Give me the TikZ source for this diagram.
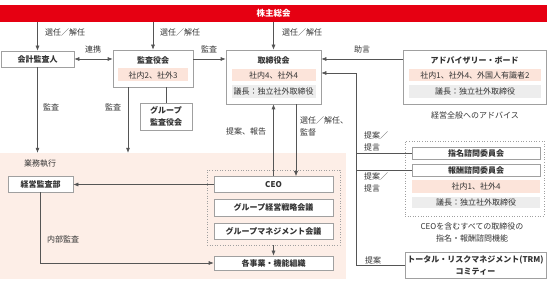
\documentclass[tikz,border=0pt]{standalone}
\usepackage{fontspec}
\setmainfont{Noto Sans CJK JP}
\definecolor{brandred}{HTML}{E60012}
\definecolor{execbg}{HTML}{FDEEE7}
\definecolor{mixbg}{HTML}{FCE4DA}
\definecolor{chairbg}{HTML}{EDEDED}
\definecolor{framegray}{HTML}{A0A0A0}
\definecolor{linegray}{HTML}{555555}
\definecolor{inkgray}{HTML}{333333}
\usetikzlibrary{arrows.meta, positioning, calc}
\tikzset{
  box/.style={
    draw=framegray, fill=white, line width=0.6pt, inner sep=0pt,
    font=\fontsize{8}{12}\selectfont\bfseries, text=inkgray, align=center
  },
  band/.style={
    fill=#1, inner sep=0pt, font=\fontsize{8}{12}\selectfont, text=inkgray
  },
  band/.default=mixbg,
  lbl/.style={font=\fontsize{8}{12}\selectfont, text=inkgray, inner sep=0pt, align=left},
  arr/.style={-{Latex[length=5pt,width=4pt]}, line width=0.6pt, draw=linegray},
  conn/.style={line width=0.6pt, draw=linegray},
  dotbox/.style={draw=framegray, dotted, line width=0.6pt, inner sep=0pt},
}

\begin{document}
\begin{tikzpicture}[x=1pt, y=-1pt]
  \useasboundingbox (0,0) rectangle (547,283);

  % Execution area
  \node[fill=execbg, minimum width=346pt, minimum height=126pt, inner sep=0pt] (exec) at (173,216) {};
  \node[lbl] (execlbl) at (40,164) {業務執行};

  % Shareholders
  \node[fill=brandred, minimum width=547pt, minimum height=17pt, inner sep=0pt,
        text=white, font=\fontsize{8.5}{10}\selectfont\bfseries] (agm) at (273.5,13.5) {株主総会};

  % Top row
  \node[box, minimum width=73pt, minimum height=16pt] (acct) at (37.5,59) {会計監査人};

  \node[box, minimum width=80pt, minimum height=37pt] (audit) at (153,68.5) {};
  \node[box, draw=none, fill=none] (audittitle) at (153,60) {監査役会};
  \node[band, minimum width=70pt, minimum height=13pt] (auditmix) at (153,75) {社内2、社外3};
  \node[box, minimum width=52pt, minimum height=27pt] (group) at (166,116.5) {グループ\\監査役会};

  \node[box, minimum width=95pt, minimum height=54pt] (board) at (273.5,77) {};
  \node[box, draw=none, fill=none] (boardtitle) at (273.5,60) {取締役会};
  \node[band, minimum width=84pt, minimum height=12pt] (boardmix) at (273.5,75) {社内4、社外4};
  \node[band=chairbg, minimum width=84pt, minimum height=13pt] (boardchair) at (273.5,91.5) {議長：独立社外取締役};

  \node[box, minimum width=143pt, minimum height=54pt] (advisory) at (474.5,77) {};
  \node[box, draw=none, fill=none] (advtitle) at (474.5,60) {アドバイザリー・ボード};
  \node[band, minimum width=132pt, minimum height=12pt] (advmix) at (475,75) {社内1、社外4、外国人有識者2};
  \node[band=chairbg, minimum width=132pt, minimum height=13pt] (advchair) at (475,91.5) {議長：独立社外取締役};
  \node[lbl] (advnote) at (475,115) {経営全般へのアドバイス};

  % Execution side
  \node[box, minimum width=65pt, minimum height=16pt] (dept) at (40.5,184) {経営監査部};
  \node[dotbox, minimum width=133pt, minimum height=75pt] (ceogrp) at (273.5,207.5) {};
  \node[box, minimum width=119pt, minimum height=16pt] (ceo) at (273.5,184.5) {CEO};
  \node[box, minimum width=119pt, minimum height=17pt] (strategy) at (273.5,207.5) {グループ経営戦略会議};
  \node[box, minimum width=119pt, minimum height=16pt] (mgmt) at (273.5,231) {グループマネジメント会議};
  \node[box, minimum width=119pt, minimum height=14pt] (units) at (273.5,263) {各事業・機能組織};

  % Committees
  \node[dotbox, minimum width=139pt, minimum height=75pt] (commgrp) at (474.5,178.5) {};
  \node[box, minimum width=128pt, minimum height=12pt] (nom) at (476,153.5) {指名諮問委員会};
  \node[box, minimum width=128pt, minimum height=12pt] (rem) at (476,170) {報酬諮問委員会};
  \node[band, minimum width=128pt, minimum height=13pt] (commmix) at (476,186.5) {社内1、社外4};
  \node[band=chairbg, minimum width=128pt, minimum height=11pt] (commchair) at (476,202.5) {議長：独立社外取締役};
  \node[lbl, align=center] (commnote) at (472,232) {CEOを含むすべての取締役の\\指名・報酬諮問機能};
  \node[box, minimum width=141pt, minimum height=26pt] (trm) at (475.5,265) {トータル・リスクマネジメント(TRM)\\コミティー};

  % Appointments
  \draw[arr] (acct.north |- agm.south) -- (acct.north);
  \draw[arr] (audit.north |- agm.south) -- (audit.north);
  \draw[arr] (board.north |- agm.south) -- (board.north);
  \node[lbl, anchor=west] (appoint1) at (45,32) {選任／解任};
  \node[lbl, anchor=west] (appoint2) at (160,32) {選任／解任};
  \node[lbl, anchor=west] (appoint3) at (282,32) {選任／解任};

  % Top row links
  \draw[arr, {Latex[length=5pt,width=4pt]}-{Latex[length=5pt,width=4pt]}] (acct.east) -- (acct.east -| audit.west);
  \node[lbl] (cooplbl) at (93,49) {連携};
  \draw[arr] (acct.east -| audit.east) -- (acct.east -| board.west);
  \node[lbl] (auditlbl1) at (209,49) {監査};
  \draw[arr] (acct.east -| advisory.west) -- (acct.east -| board.east);
  \node[lbl] (advlbl) at (362,49) {助言};
  \draw[conn] (audit.south -| group.north) -- (group.north);

  % Audits
  \draw[arr] (acct.south) -- (acct.south |- exec.north);
  \node[lbl] (auditlbl2) at (51,107) {監査};
  \draw[arr] ([xshift=-25pt]audit.south) -- ([xshift=-25pt]audit.south |- exec.north);
  \node[lbl] (auditlbl3) at (113,107) {監査};

  % Board and CEO
  \draw[arr] (ceo.north) -- (ceo.north |- board.south);
  \node[lbl] (reportlbl) at (246,131) {提案、報告};
  \draw[arr] ([xshift=22.5pt]board.south) -- ([xshift=22.5pt]ceo.north);
  \node[lbl, anchor=north west] (superlbl) at (300,117) {選任／解任、\\監督};
  \draw[arr] (ceo.west) -- (ceo.west -| dept.east);
  \draw[arr] (dept.south) |- (units.west);
  \node[lbl] (internallbl) at (63,239) {内部監査};
  \draw[arr] (ceogrp.south) -- (units.north);

  % Proposals to the board
  \coordinate (spine) at (356,0);
  \draw[arr] (trm.west) -- (trm.west -| spine) |- ([yshift=4pt]board.east);
  \draw[conn] (nom.west) -- (nom.west -| spine);
  \draw[conn] (rem.west) -- (rem.west -| spine);
  \node[lbl, anchor=west] (proplbl1) at (364,141) {提案／\\提言};
  \node[lbl, anchor=west] (proplbl2) at (364,182.5) {提案／\\提言};
  \node[lbl] (proplbl3) at (373,260) {提案};
\end{tikzpicture}
\end{document}
